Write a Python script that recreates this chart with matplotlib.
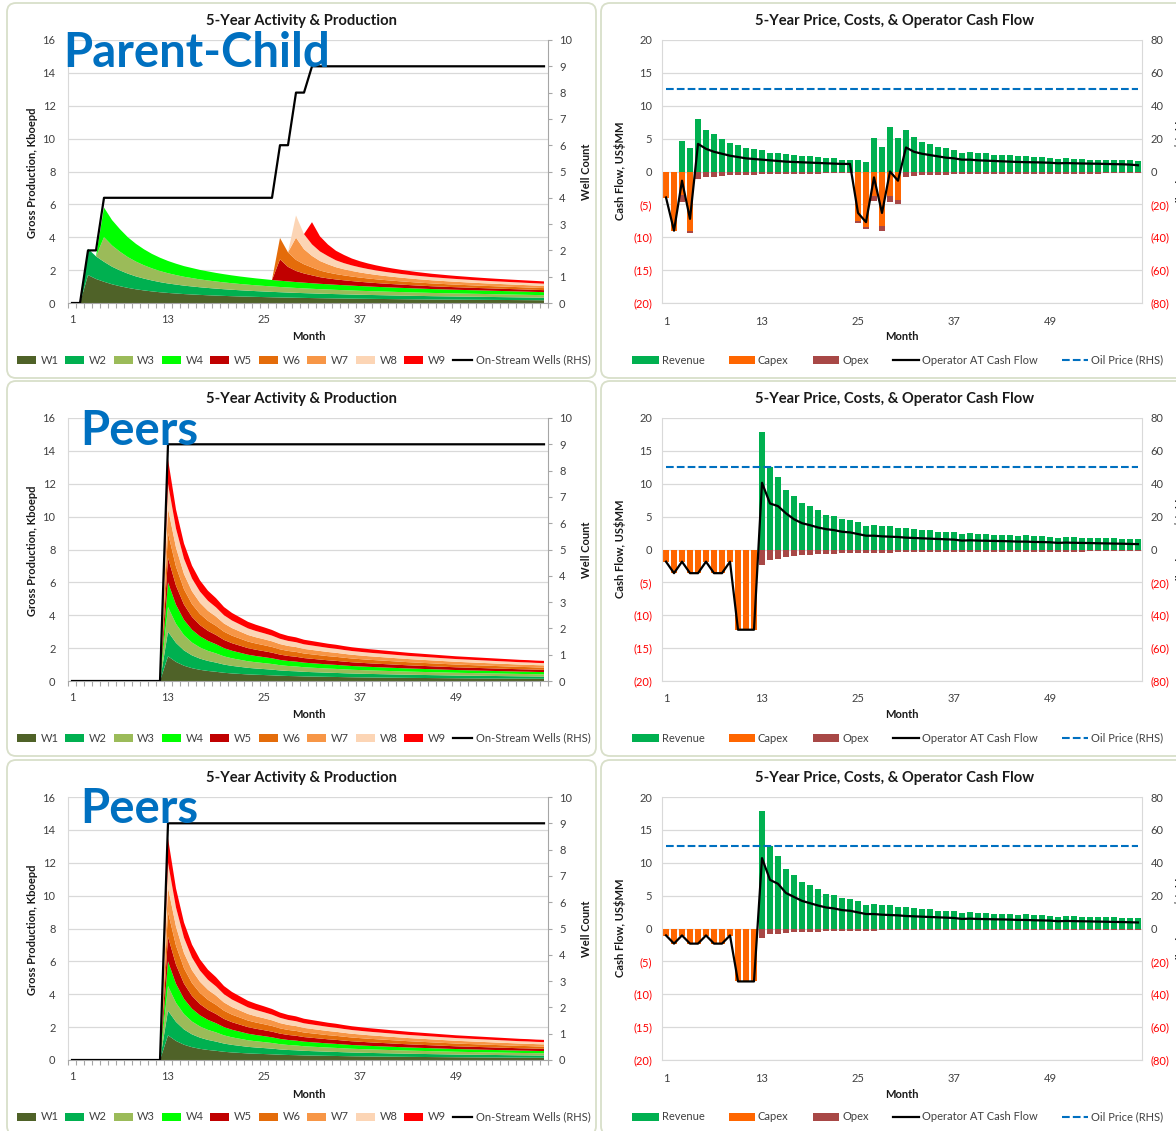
import numpy as np
import matplotlib
matplotlib.use("Agg")
import matplotlib.pyplot as plt
from matplotlib.patches import FancyBboxPatch, Patch
from matplotlib.lines import Line2D

plt.rcParams['font.family'] = ['Lato', 'DejaVu Sans']

# ---------------------------------------------------------------- data
MONTHS = np.arange(1, 61)
MONTH_TICKS = [1, 13, 25, 37, 49]

WELL_NAMES = ["W1", "W2", "W3", "W4", "W5", "W6", "W7", "W8", "W9"]
WELL_COLORS = ["#4F6228", "#00B050", "#9BBB59", "#00FF00", "#C00000",
               "#E46C0A", "#F79646", "#FCD5B5", "#FF0000"]

# Parent-child development: first month on stream and initial rate (kboepd)
PC_START = [3, 3, 5, 5, 27, 27, 29, 29, 31]
PC_PEAK = [1.70, 1.60, 1.50, 1.80, 1.30, 1.30, 1.35, 1.35, 1.35]
# rate as a fraction of the initial rate, by month on stream
PARENT_DECLINE = [1.0, 0.86, 0.76, 0.67, 0.60, 0.54, 0.49, 0.45, 0.415, 0.385,
                  0.36, 0.34, 0.32, 0.305, 0.29, 0.277, 0.265, 0.254, 0.244, 0.235,
                  0.227, 0.219, 0.212, 0.205, 0.199, 0.193, 0.187, 0.182, 0.177, 0.172,
                  0.168, 0.164, 0.16, 0.156, 0.152, 0.149, 0.146, 0.143, 0.14, 0.137,
                  0.134, 0.131, 0.129, 0.126, 0.124, 0.122, 0.12, 0.118, 0.116, 0.114,
                  0.112, 0.11, 0.108, 0.106, 0.104, 0.102, 0.1, 0.098]
CHILD_DECLINE = [1.0, 0.68, 0.52, 0.43, 0.37, 0.31, 0.275, 0.25, 0.23, 0.213,
                 0.199, 0.187, 0.177, 0.168, 0.16, 0.153, 0.147, 0.141, 0.136, 0.132,
                 0.128, 0.124, 0.12, 0.117, 0.114, 0.111, 0.109, 0.107, 0.105, 0.103,
                 0.101, 0.099, 0.097, 0.095]
PC_ONSTREAM = [0, 0, 2, 2] + [4] * 22 + [6, 6, 8, 8] + [9] * 30

# Peers: all nine wells on stream in month 13, per-well rate (kboepd)
PEER_START = 13
PEER_RATE = [1.50, 1.16, 0.93, 0.78, 0.68, 0.61, 0.56, 0.50, 0.46, 0.43,
             0.40, 0.38, 0.363, 0.345, 0.321, 0.305, 0.295, 0.279, 0.27, 0.261,
             0.252, 0.245, 0.236, 0.228, 0.222, 0.216, 0.211, 0.206, 0.201, 0.196,
             0.191, 0.187, 0.183, 0.179, 0.175, 0.171, 0.167, 0.164, 0.161, 0.158,
             0.155, 0.152, 0.149, 0.146, 0.143, 0.141, 0.138, 0.136]
PEER_ONSTREAM = [0] * 12 + [9] * 48

# Cash flow, US$MM per month
REV_PC = [0, 0, 4.65, 3.65, 7.95, 6.3, 5.65, 4.95, 4.3, 4.0,
          3.55, 3.4, 3.2, 2.8, 2.8, 2.6, 2.5, 2.3, 2.3, 2.2,
          2.0, 2.0, 1.8, 1.8, 1.75, 1.5, 5.05, 3.8, 6.75, 5.15,
          6.25, 5.2, 4.45, 4.2, 3.7, 3.55, 3.3, 2.8, 2.95, 2.75,
          2.75, 2.55, 2.55, 2.45, 2.35, 2.35, 2.2, 2.2, 2.1, 1.85,
          2.0, 1.9, 1.9, 1.8, 1.8, 1.75, 1.75, 1.7, 1.7, 1.65]
CAPEX_PC = [-4.0, -9.0, -3.5, -9.0] + [0] * 20 + [-7.5, -8.4, -3.8, -8.35, -3.8, -4.3] + [0] * 30
OPEX_PC = [0, 0, -1.1, -0.4, -1.1, -0.9, -0.8, -0.7, -0.6, -0.55,
           -0.5, -0.5, -0.45, -0.4, -0.4, -0.38, -0.36, -0.35, -0.33, -0.32,
           -0.3, -0.3, -0.3, -0.28, -0.35, -0.35, -0.65, -0.65, -0.85, -0.6,
           -0.8, -0.7, -0.6, -0.55, -0.5, -0.5, -0.45, -0.42, -0.42, -0.4,
           -0.4, -0.38, -0.38, -0.37, -0.36, -0.35, -0.35, -0.34, -0.33, -0.32,
           -0.33, -0.32, -0.32, -0.31, -0.31, -0.3, -0.3, -0.3, -0.29, -0.29]
CF_PC = [-3.95, -9.0, -1.4, -7.2, 4.2, 3.45, 3.0, 2.7, 2.4, 2.2,
         2.0, 1.9, 1.8, 1.7, 1.6, 1.5, 1.45, 1.4, 1.35, 1.3,
         1.25, 1.2, 1.15, 1.15, -6.3, -7.7, -0.9, -6.3, 0.0, -1.4,
         3.65, 3.0, 2.7, 2.5, 2.3, 2.1, 2.0, 1.8, 1.8, 1.7,
         1.65, 1.6, 1.55, 1.5, 1.45, 1.42, 1.4, 1.37, 1.33, 1.25,
         1.28, 1.25, 1.22, 1.2, 1.18, 1.15, 1.12, 1.1, 1.05, 0.95]

REV_PEERS = [0] * 12 + [
    17.9, 12.6, 11.05, 9.0, 8.15, 7.0, 6.6, 5.95, 5.3, 5.1,
    4.6, 4.5, 4.25, 3.65, 3.8, 3.55, 3.55, 3.25, 3.25, 3.1,
    2.95, 2.95, 2.7, 2.7, 2.65, 2.35, 2.45, 2.35, 2.35, 2.2,
    2.25, 2.2, 2.1, 2.15, 2.0, 2.0, 1.95, 1.75, 1.9, 1.85,
    1.8, 1.8, 1.75, 1.75, 1.7, 1.65, 1.65, 1.65]

CAPEX_PEERS_A = [-1.85, -3.6, -1.85, -3.6, -3.6, -1.85, -3.6, -3.6, -1.85,
                 -12.2, -12.2, -12.2] + [0] * 48
OPEX_PEERS_A = [0] * 12 + [
    -2.3, -1.65, -1.4, -1.15, -1.0, -0.9, -0.82, -0.75, -0.7, -0.65,
    -0.6, -0.57, -0.55, -0.5, -0.5, -0.48, -0.47, -0.45, -0.44, -0.43,
    -0.42, -0.41, -0.4, -0.39, -0.38, -0.37, -0.37, -0.36, -0.36, -0.35,
    -0.35, -0.34, -0.34, -0.33, -0.33, -0.32, -0.32, -0.31, -0.32, -0.31,
    -0.31, -0.3, -0.3, -0.3, -0.3, -0.29, -0.29, -0.29]
CF_PEERS_A = [-1.85, -3.6, -1.85, -3.6, -3.6, -1.85, -3.6, -3.6, -1.85,
              -12.2, -12.2, -12.2,
              10.15, 7.0, 6.6, 5.5, 4.6, 4.0, 3.7, 3.35, 3.1, 2.95,
              2.7, 2.6, 2.35, 2.1, 2.1, 2.0, 1.95, 1.9, 1.8, 1.75,
              1.7, 1.65, 1.6, 1.55, 1.5, 1.35, 1.4, 1.35, 1.33, 1.3,
              1.28, 1.25, 1.2, 1.2, 1.15, 1.13, 1.1, 1.0, 1.05, 1.02,
              1.0, 0.98, 0.95, 0.93, 0.9, 0.88, 0.85, 0.82]

CAPEX_PEERS_B = [-1.15, -2.3, -1.15, -2.3, -2.3, -1.15, -2.3, -2.3, -1.15,
                 -8.05, -8.05, -8.05] + [0] * 48
OPEX_PEERS_B = [0] * 12 + [
    -1.4, -0.9, -0.78, -0.68, -0.6, -0.55, -0.5, -0.46, -0.43, -0.4,
    -0.38, -0.36, -0.34, -0.31, -0.31, -0.3, -0.29, -0.28, -0.27, -0.27,
    -0.26, -0.25, -0.25, -0.24, -0.24, -0.23, -0.23, -0.22, -0.22, -0.22,
    -0.21, -0.21, -0.21, -0.2, -0.2, -0.2, -0.2, -0.19, -0.2, -0.19,
    -0.19, -0.19, -0.18, -0.18, -0.18, -0.18, -0.18, -0.17]
CF_PEERS_B = [-1.05, -2.3, -1.05, -2.3, -2.3, -1.05, -2.3, -2.3, -1.05,
              -8.05, -8.05, -8.05,
              10.7, 7.4, 6.8, 5.4, 4.8, 4.2, 3.85, 3.5, 3.2, 3.05,
              2.8, 2.7, 2.45, 2.2, 2.2, 2.1, 2.05, 2.0, 1.9, 1.85,
              1.8, 1.75, 1.7, 1.65, 1.6, 1.45, 1.5, 1.45, 1.43, 1.4,
              1.38, 1.35, 1.3, 1.3, 1.25, 1.23, 1.2, 1.1, 1.15, 1.12,
              1.1, 1.08, 1.05, 1.03, 1.0, 0.98, 0.95, 0.92]

OIL_PRICE = [50] * 60

CF_SERIES = ["Revenue", "Capex", "Opex", "Operator AT Cash Flow", "Oil Price (RHS)"]
CF_COLORS = ["#00B050", "#FF6600", "#A84846", "black", "#0070C0"]


def well_table(starts, peaks, profiles):
    rows = []
    for start, peak, prof in zip(starts, peaks, profiles):
        row = np.zeros(len(MONTHS))
        n = min(len(prof), len(MONTHS) - start + 1)
        row[start - 1:start - 1 + n] = peak * np.asarray(prof[:n])
        rows.append(row)
    return rows


PC_WELLS = well_table(PC_START, PC_PEAK, [PARENT_DECLINE] * 4 + [CHILD_DECLINE] * 5)
PEER_WELLS = well_table([PEER_START] * 9, [1.0] * 9, [PEER_RATE] * 9)

# ---------------------------------------------------------------- styling
W_PX, H_PX = 1176, 1131
GRID = "#D9D9D9"
AXIS_C = "#A6A6A6"
TICK_C = "#404040"
NEG_C = "#FF0000"
TAG_C = "#0070C0"
FS_TICK = 8.0
FS_LAB = 8.0
FS_LEG = 8.0
FS_TITLE = 10.6

fig = plt.figure(figsize=(W_PX / 100, H_PX / 100), dpi=100)
fig.patch.set_facecolor("white")


def axes_px(x0, y0, x1, y1):
    return fig.add_axes([x0 / W_PX, 1 - y1 / H_PX, (x1 - x0) / W_PX, (y1 - y0) / H_PX])


def ftext(x, y, s, **kw):
    kw.setdefault("ha", "center")
    kw.setdefault("va", "center")
    return fig.text(x / W_PX, 1 - y / H_PX, s, **kw)


def frame(x0, y0, x1, y1):
    box = FancyBboxPatch((x0 / 100, (H_PX - y1) / 100), (x1 - x0) / 100, (y1 - y0) / 100,
                         boxstyle="round,pad=0,rounding_size=0.09",
                         transform=fig.dpi_scale_trans, facecolor="white",
                         edgecolor="#D8DFC9", lw=1.3, zorder=-5)
    fig.add_artist(box)


def paren(v):
    return f"({abs(int(v))})" if v < 0 else f"{int(v)}"


def production_panel(top, wells, onstream, tag, tag_x, tag_base):
    ax = axes_px(68, top + 40, 548, top + 303)
    ax.set_facecolor("none")
    ax.stackplot(MONTHS, *wells, colors=WELL_COLORS, lw=0, zorder=2)
    ax.set_xlim(0.5, 60.5)
    ax.set_ylim(0, 16)
    ax.set_yticks(np.arange(0, 17, 2))
    ax.yaxis.grid(True, color=GRID, lw=0.9)
    ax.set_axisbelow(True)
    ax.set_xticks(MONTH_TICKS)
    ax.set_xticks(np.arange(0.5, 61, 1), minor=True)
    ax.tick_params(axis="x", which="major", length=0, pad=8,
                   labelsize=FS_TICK, labelcolor=TICK_C)
    ax.tick_params(axis="x", which="minor", length=3.5, width=0.8, color=AXIS_C)
    ax.tick_params(axis="y", length=0, pad=9, labelsize=FS_TICK, labelcolor=TICK_C)
    ax.spines["top"].set_visible(False)
    ax.spines["right"].set_visible(False)
    ax.spines["left"].set_color(GRID)
    ax.spines["bottom"].set_color(AXIS_C)

    ax2 = ax.twinx()
    ax2.plot(MONTHS, onstream, color="black", lw=1.6, zorder=3)
    ax2.set_ylim(0, 10)
    ax2.set_yticks(range(0, 11))
    ax2.tick_params(axis="y", length=3, width=0.8, color=AXIS_C, pad=5,
                    labelsize=FS_TICK, labelcolor=TICK_C)
    for s in ("top", "left", "bottom"):
        ax2.spines[s].set_visible(False)
    ax2.spines["right"].set_color(AXIS_C)

    ftext(301, top + 21, "5-Year Activity & Production", fontsize=FS_TITLE,
          fontweight="bold", color="#1A1A1A")
    ftext(309, top + 337, "Month", fontsize=FS_LAB, fontweight="bold", color="#1A1A1A")
    ftext(32, top + 173, "Gross Production, Kboepd", rotation=90, fontsize=FS_LAB,
          fontweight="bold", color="#1A1A1A")
    ftext(587, top + 172, "Well Count", rotation=90, fontsize=FS_LAB,
          fontweight="bold", color="#1A1A1A")
    ftext(tag_x, top + tag_base, tag, ha="left", va="baseline", fontsize=34,
          fontweight="bold", color=TAG_C, zorder=10)

    handles = [Patch(facecolor=c, label=n) for n, c in zip(WELL_NAMES, WELL_COLORS)]
    handles.append(Line2D([], [], color="black", lw=1.6, label="On-Stream Wells (RHS)"))
    fig.legend(handles=handles, loc="center", bbox_to_anchor=(304 / W_PX, 1 - (top + 360) / H_PX),
               ncol=10, frameon=False, fontsize=FS_LEG, handlelength=1.7, handleheight=0.7,
               handletextpad=0.42, columnspacing=0.62, borderaxespad=0, borderpad=0,
               labelcolor=TICK_C)


def cashflow_panel(top, rev, capex, opex, cf):
    ax = axes_px(662, top + 40, 1142, top + 303)
    ax.set_facecolor("none")
    width = 0.82
    ax.bar(MONTHS, rev, width=width, color=CF_COLORS[0], zorder=2)
    ax.bar(MONTHS, capex, width=width, color=CF_COLORS[1], zorder=2)
    ax.bar(MONTHS, opex, bottom=capex, width=width, color=CF_COLORS[2], zorder=2)
    ax.plot(MONTHS, cf, color=CF_COLORS[3], lw=1.6, zorder=4)
    ax.set_xlim(0.5, 60.5)
    ax.set_ylim(-20, 20)
    yt = np.arange(-20, 21, 5)
    ax.set_yticks(yt)
    ax.set_yticklabels([paren(v) for v in yt])
    for lab, v in zip(ax.get_yticklabels(), yt):
        lab.set_color(NEG_C if v < 0 else TICK_C)
    ax.yaxis.grid(True, color=GRID, lw=0.9)
    ax.set_axisbelow(True)
    ax.set_xticks(MONTH_TICKS)
    ax.tick_params(axis="x", length=0, pad=9, labelsize=FS_TICK, labelcolor=TICK_C)
    ax.tick_params(axis="y", length=0, pad=7, labelsize=FS_TICK)
    ax.spines["top"].set_visible(False)
    ax.spines["right"].set_visible(False)
    ax.spines["left"].set_color(GRID)
    ax.spines["bottom"].set_color(GRID)

    ax2 = ax.twinx()
    ax2.plot(MONTHS, OIL_PRICE, color=CF_COLORS[4], lw=1.5, dashes=(3.7, 1.5), zorder=3)
    ax2.set_ylim(-80, 80)
    yt2 = np.arange(-80, 81, 20)
    ax2.set_yticks(yt2)
    ax2.set_yticklabels([paren(v) for v in yt2])
    for lab, v in zip(ax2.get_yticklabels(), yt2):
        lab.set_color(NEG_C if v < 0 else TICK_C)
    ax2.tick_params(axis="y", length=0, pad=6, labelsize=FS_TICK)
    for s in ("top", "left", "bottom"):
        ax2.spines[s].set_visible(False)
    ax2.spines["right"].set_color(GRID)

    ftext(895, top + 21, "5-Year Price, Costs, & Operator Cash Flow", fontsize=FS_TITLE,
          fontweight="bold", color="#1A1A1A")
    ftext(902, top + 337, "Month", fontsize=FS_LAB, fontweight="bold", color="#1A1A1A")
    ftext(620, top + 171, "Cash Flow, US$MM", rotation=90, fontsize=FS_LAB,
          fontweight="bold", color="#1A1A1A")
    # secondary-axis title sits at the right edge of the sheet
    ftext(1181, top + 166, "Oil Price, US$/Bbl", rotation=90, fontsize=FS_LAB,
          fontweight="bold", color="#1A1A1A")

    handles = [Patch(facecolor=CF_COLORS[0], label=CF_SERIES[0]),
               Patch(facecolor=CF_COLORS[1], label=CF_SERIES[1]),
               Patch(facecolor=CF_COLORS[2], label=CF_SERIES[2]),
               Line2D([], [], color=CF_COLORS[3], lw=1.6, label=CF_SERIES[3]),
               Line2D([], [], color=CF_COLORS[4], lw=1.5, dashes=(3.7, 1.5), label=CF_SERIES[4])]
    fig.legend(handles=handles, loc="center", bbox_to_anchor=(898 / W_PX, 1 - (top + 360) / H_PX),
               ncol=5, frameon=False, fontsize=FS_LEG, handlelength=2.35, handleheight=0.7,
               handletextpad=0.27, columnspacing=2.2, borderaxespad=0, borderpad=0,
               labelcolor=TICK_C)


ROW_TOPS = [0, 378, 757]

for top in ROW_TOPS:
    frame(7, top + 3, 596, top + 378)
    frame(601, top + 3, 1200, top + 378)

production_panel(ROW_TOPS[0], PC_WELLS, PC_ONSTREAM, "Parent-Child", 63, 67)
cashflow_panel(ROW_TOPS[0], REV_PC, CAPEX_PC, OPEX_PC, CF_PC)

production_panel(ROW_TOPS[1], PEER_WELLS, PEER_ONSTREAM, "Peers", 80, 67)
cashflow_panel(ROW_TOPS[1], REV_PEERS, CAPEX_PEERS_A, OPEX_PEERS_A, CF_PEERS_A)

production_panel(ROW_TOPS[2], PEER_WELLS, PEER_ONSTREAM, "Peers", 80, 66)
cashflow_panel(ROW_TOPS[2], REV_PEERS, CAPEX_PEERS_B, OPEX_PEERS_B, CF_PEERS_B)

fig.savefig("out.png", dpi=100, facecolor="white")
